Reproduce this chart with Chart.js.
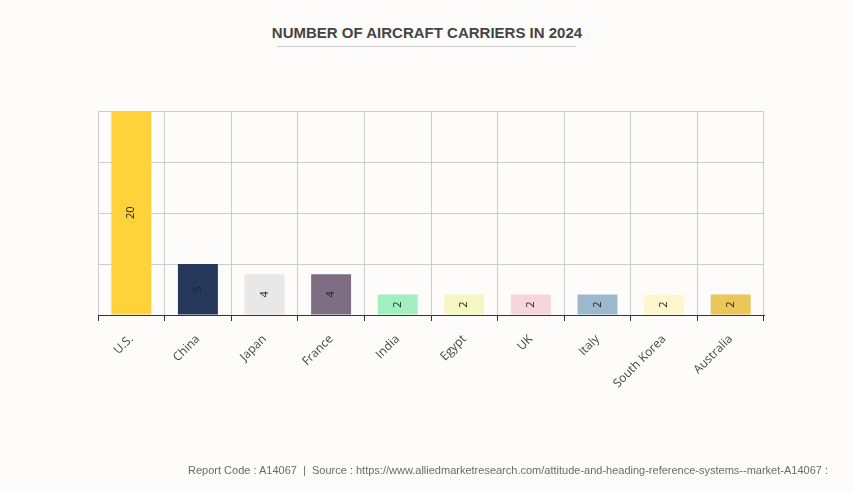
<!DOCTYPE html>
<html>
<head>
<meta charset="utf-8">
<script src="https://cdn.jsdelivr.net/npm/chart.js@4"></script>
<style>
  html, body { margin: 0; padding: 0; background: #fdfcfa; }
  #wrap { position: relative; width: 854px; height: 494px; overflow: hidden; background: #fdfcfa; }
  #title { position: absolute; left: 0; width: 854px; top: 24px; text-align: center;
           font: bold 15px "Liberation Sans", Arial, sans-serif; color: #444; }
  #rule { position: absolute; left: 277px; width: 299px; top: 46px; height: 1px; background: #cccccc; }
  #footer { position: absolute; right: 26px; top: 464px; white-space: nowrap;
            font: 11px "Liberation Sans", Arial, sans-serif; color: #6a6a6a; }
  canvas { position: absolute; left: 0; top: 0; }
</style>
</head>
<body>
<div id="wrap">
  <div id="title">NUMBER OF AIRCRAFT CARRIERS IN 2024</div>
  <div id="rule"></div>
  <canvas id="c" width="854" height="494"></canvas>
  <div id="footer">Report Code : A14067&nbsp;&nbsp;|&nbsp;&nbsp;Source : https://www.alliedmarketresearch.com/attitude-and-heading-reference-systems--market-A14067 :</div>
</div>
<script>
const categories = ["U.S.", "China", "Japan", "France", "India", "Egypt", "UK", "Italy", "South Korea", "Australia"];
const carriers = [20, 5, 4, 4, 2, 2, 2, 2, 2, 2];
const barColors = ["#fed23a", "#263859", "#e8e8e8", "#7d6e83", "#a1efbf", "#f6f6c3", "#f7d6da", "#9bb8cd", "#fff5cf", "#ebc659"];
const yTicks = [0, 5, 10, 15, 20];

const valueLabels = {
  id: "valueLabels",
  afterDatasetsDraw(chart) {
    const ctx = chart.ctx;
    const meta = chart.getDatasetMeta(0);
    ctx.save();
    ctx.font = '11px "Open Sans", sans-serif';
    ctx.fillStyle = "#222";
    ctx.textAlign = "center";
    ctx.textBaseline = "middle";
    meta.data.forEach((bar, i) => {
      const p = bar.getProps(["x", "y", "base"], true);
      const cy = (p.y + p.base) / 2;
      ctx.save();
      ctx.translate(p.x, cy);
      ctx.rotate(-Math.PI / 2);
      ctx.fillText(String(carriers[i]), 0, 0);
      ctx.restore();
    });
    ctx.restore();
  }
};

new Chart(document.getElementById("c"), {
  type: "bar",
  data: {
    labels: categories,
    datasets: [{
      data: carriers,
      backgroundColor: barColors,
      borderWidth: 0,
      barPercentage: 0.6,
      categoryPercentage: 1.0
    }]
  },
  options: {
    responsive: false,
    animation: false,
    layout: { padding: { left: 98, right: 90, top: 111, bottom: 0 } },
    plugins: { legend: { display: false }, tooltip: { enabled: false } },
    scales: {
      x: {
        grid: { color: "#cccccc", offset: true, tickLength: 6, tickColor: "#333", drawOnChartArea: true },
        border: { color: "#333", width: 1 },
        ticks: { minRotation: 45, maxRotation: 45, color: "#444", font: { family: "Open Sans", size: 12 }, padding: 11 },
        afterFit(scale) { scale.height = 179; }
      },
      y: {
        min: 0, max: 20,
        afterBuildTicks(scale) { scale.ticks = yTicks.map(v => ({ value: v })); },
        grid: { color: "#cccccc", drawTicks: false },
        border: { display: false },
        ticks: { display: false },
        afterFit(scale) { scale.width = 0; }
      }
    }
  },
  plugins: [valueLabels]
});
</script>
</body>
</html>
